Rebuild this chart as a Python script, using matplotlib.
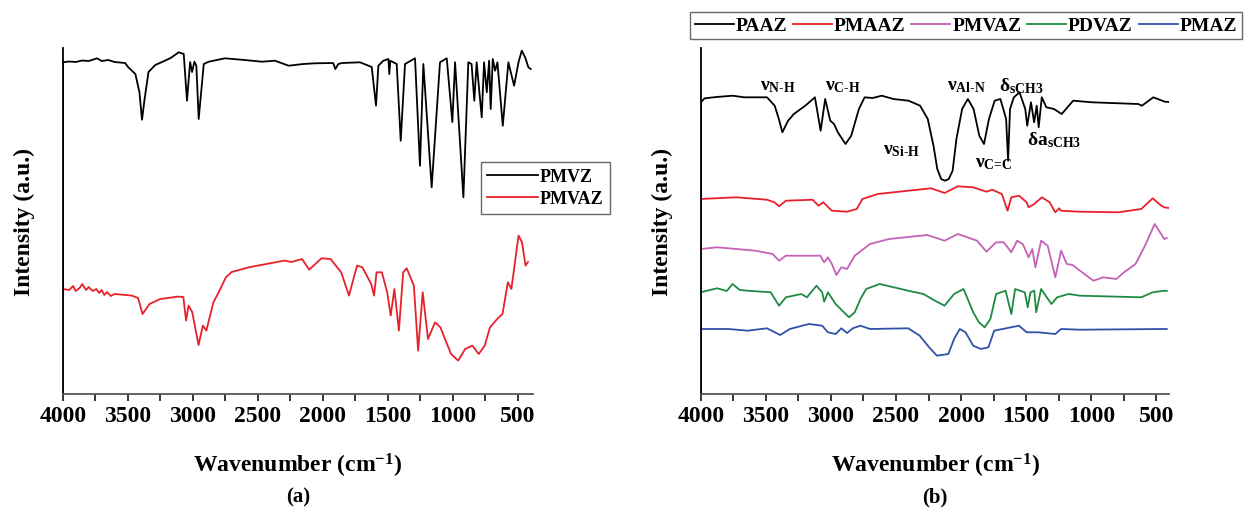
import numpy as np
import matplotlib.pyplot as plt
from matplotlib.ticker import MultipleLocator

plt.rcParams['font.family'] = ['Liberation Serif', 'DejaVu Serif']
plt.rcParams['font.weight'] = 'bold'
plt.rcParams['mathtext.fontset'] = 'custom'
plt.rcParams['mathtext.rm'] = 'Liberation Serif:bold'
plt.rcParams['mathtext.it'] = 'Liberation Serif:bold'
plt.rcParams['mathtext.bf'] = 'Liberation Serif:bold'

# ---- panel (a) data: wavenumber (cm-1), intensity (a.u., offset stack) ----
pmvz_w = [4000, 3950, 3900, 3850, 3800, 3736, 3700, 3650, 3600, 3520, 3495, 3441, 3410, 3390,
          3370, 3340, 3288, 3236, 3170, 3108, 3069, 3044, 3020, 3005, 2987, 2972, 2954, 2915,
          2877, 2752, 2600, 2467, 2367, 2262, 2150, 2060, 1920, 1903, 1880, 1852, 1713, 1623,
          1590, 1572, 1534, 1495, 1488, 1480, 1431, 1400, 1367, 1290, 1252, 1226, 1162, 1098,
          1046, 1003, 982, 918, 880, 855, 834, 816, 777, 759, 738, 720, 708, 692, 674, 656,
          615, 572, 528, 494, 469, 443, 418, 400]
pmvz_i = [331.7, 332.5, 332, 333.5, 333, 335.7, 333, 334, 332, 331, 326.7, 320, 302, 274.3,
          295, 322, 329, 332, 336, 341.7, 340, 293.3, 332, 322, 332.3, 328.3, 275, 330,
          332.3, 335.7, 334, 332.3, 333.3, 328.3, 330, 330.7, 331, 325, 330, 331, 331.7, 327,
          288.3, 328.3, 333.3, 335, 320, 333.3, 330, 253.3, 330, 335.7, 228.3, 330, 206.7, 331.7,
          335.7, 272, 331.7, 196.7, 331.7, 330, 293.3, 331.7, 276.7, 331.7, 301.7, 333.3, 285, 335,
          323.3, 331.7, 268.3, 331.7, 308.3, 331.7, 343.3, 336.7, 326.7, 325]

pmvaz_w = [4000, 3950, 3920, 3900, 3870, 3850, 3820, 3800, 3770, 3741, 3720, 3700, 3680, 3659,
           3630, 3600, 3468, 3420, 3386, 3332, 3250, 3113, 3072, 3051, 3032, 3004, 2955, 2922,
           2895, 2841, 2800, 2745, 2700, 2568, 2295, 2240, 2159, 2104, 2009, 1940, 1858, 1798,
           1736, 1695, 1627, 1605, 1586, 1545, 1504, 1477, 1449, 1414, 1381, 1354, 1299, 1266,
           1231, 1190, 1136, 1095, 1013, 958, 904, 849, 800, 754, 713, 658, 617, 576, 549, 535,
           494, 467, 440, 421]
pmvaz_i = [105, 104, 108, 103, 106, 110, 104, 107, 103, 105, 101, 104, 99, 102,
           98, 100, 98.4, 96, 80, 90, 95, 97.4, 97, 73.4, 88.4, 82, 49, 68.4,
           63.4, 91.7, 101.7, 116.7, 122, 126.7, 133.4, 132, 135, 124.4, 135.7, 135, 121.7, 98.4,
           128.4, 126.7, 110, 98.4, 121.7, 121.7, 101.7, 78.4, 105, 63.4, 121.7, 125.7, 108.4, 43.4,
           101.7, 55, 71.7, 66.7, 40, 33.4, 45, 48.4, 40, 48.4, 66.7, 75, 80, 111.7, 105, 118.4,
           158.4, 151.7, 128.4, 132]

# ---- panel (b) data ----
paaz_w = [4000, 3970, 3880, 3755, 3667, 3491, 3432, 3400, 3373, 3329, 3285, 3197, 3123, 3079,
          3044, 3005, 2976, 2947, 2888, 2844, 2785, 2741, 2680, 2609, 2520, 2403, 2315, 2256,
          2212, 2183, 2153, 2124, 2095, 2065, 2036, 1992, 1948, 1904, 1860, 1824, 1786, 1742,
          1698, 1654, 1639, 1624, 1595, 1551, 1507, 1492, 1463, 1439, 1419, 1404, 1380, 1345,
          1286, 1227, 1139, 992, 640, 611, 523, 435, 400]
paaz_i = [291.7, 295.7, 297, 298.3, 296.7, 296.7, 288.3, 275, 261.7, 273.3, 280, 288.3, 296.7, 263.3,
          295, 273.3, 270, 261.7, 250, 258.3, 285, 296.7, 296, 298.3, 295, 293.3, 288.3, 275,
          248.3, 225, 215, 213.3, 215, 223.3, 255, 285, 295, 285, 258.3, 250, 275, 293.3,
          295, 275, 233.3, 285, 296.7, 301.7, 285, 268.3, 291.7, 271.7, 288.3, 266.7, 296.7, 286.7,
          285, 280, 293.3, 291.7, 290, 288.3, 296.7, 292.3, 292]

pmaaz_w = [4000, 3727, 3492, 3434, 3398, 3346, 3140, 3096, 3058, 2993, 2876, 2802, 2758, 2641,
           2406, 2230, 2127, 2025, 1907, 1805, 1761, 1687, 1643, 1614, 1555, 1496, 1482, 1438,
           1379, 1320, 1276, 1247, 1232, 1086, 792, 616, 528, 469, 440, 400]
pmaaz_i = [195, 196.7, 194.3, 191.7, 187.7, 193.3, 194.3, 188.3, 191.7, 183.3, 182.3, 185, 195, 200,
           203.3, 205.7, 201, 207.7, 206.7, 202.3, 204.3, 200, 183.3, 196.7, 198.3, 191.7, 186.7, 190,
           196.7, 191.7, 181.7, 185.7, 183.3, 182.3, 181.7, 185, 195.7, 189, 186.7, 186]

pmvaz_b_w = [4000, 3874, 3580, 3448, 3398, 3346, 3081, 3052, 3023, 2993, 2958, 2920, 2876, 2817,
             2700, 2553, 2260, 2127, 2025, 1878, 1805, 1731, 1672, 1643, 1614, 1570, 1526, 1482,
             1453, 1429, 1385, 1335, 1276, 1232, 1188, 1144, 1086, 983, 909, 807, 748, 660, 587,
             513, 463, 440, 420]
pmvaz_b_i = [145, 146.7, 143.3, 140, 133.3, 138.3, 138.3, 131.7, 136.7, 130, 119, 126.7, 125, 138.3,
             150, 155, 159, 153.3, 160, 153.3, 142.3, 151.7, 151.7, 146.7, 141.7, 153.3, 150, 136.7,
             145, 126.7, 153.3, 148.3, 116.7, 143.3, 130, 129, 123.3, 113.3, 116.7, 115, 121.7, 130, 148.3,
             170, 160, 155, 156]

pdvaz_w = [4000, 3930, 3874, 3800, 3756, 3700, 3639, 3463, 3398, 3346, 3228, 3184, 3111, 3067,
           3052, 3023, 2964, 2861, 2817, 2773, 2729, 2626, 2406, 2289, 2201, 2127, 2054, 1981,
           1907, 1863, 1819, 1775, 1731, 1658, 1614, 1585, 1511, 1488, 1467, 1438, 1423, 1385,
           1350, 1306, 1262, 1174, 1086, 792, 616, 528, 440, 420]
pdvaz_i = [101.7, 104, 105.7, 103, 110, 104, 103.3, 101.7, 88.3, 96.7, 100, 96.7, 108.3, 101.7,
           92.3, 101.7, 90, 76.7, 81.7, 95, 105, 110, 103.3, 100, 93.3, 88.3, 100, 105,
           81.7, 71.7, 66.7, 75, 100, 103.3, 80, 105, 101.7, 86.7, 101.7, 103.3, 81.7, 105,
           98.3, 90, 96.7, 100, 98.3, 97.3, 96.7, 101.7, 103.3, 103]

pmaz_w = [4000, 3786, 3639, 3492, 3390, 3316, 3169, 3067, 3023, 2964, 2920, 2876, 2832, 2773,
          2700, 2406, 2318, 2245, 2186, 2098, 2054, 2010, 1966, 1907, 1848, 1790, 1746, 1555,
          1496, 1409, 1276, 1232, 1086, 440, 420]
pmaz_i = [65, 65, 63.3, 65.7, 59, 65, 70, 68.3, 61.7, 60, 65.7, 61, 65.7, 68.3,
          65, 65.7, 58.3, 46.7, 38.3, 40, 55, 65, 61.7, 48.3, 45, 46.7, 63.3, 68.3,
          61.7, 61.7, 60, 65, 64.3, 65, 65]

labels_a = ['PMVZ', 'PMVAZ']
colors_a = ['black', '#e8202a']
labels_b = ['PAAZ', 'PMAAZ', 'PMVAZ', 'PDVAZ', 'PMAZ']
colors_b = ['black', '#e8202a', '#c462b8', '#1f8a43', '#2f52a8']

# band assignments (label, wavenumber, intensity)
ann_text = [r'ν$_{\mathrm{N\text{-}H}}$', r'ν$_{\mathrm{C\text{-}H}}$', r'ν$_{\mathrm{Si\text{-}H}}$',
            r'ν$_{\mathrm{Al\text{-}N}}$', r'δ$_{\mathrm{sCH3}}$', r'ν$_{\mathrm{C\text{=}C}}$',
            r'δa$_{\mathrm{sCH3}}$']
ann_w = [3408, 2910, 2460, 1961, 1539, 1747, 1287]
ann_i = [309, 309, 245, 309, 309, 232, 255]

fig = plt.figure(figsize=(12.44, 5.10), dpi=100)
ax1 = fig.add_axes([0.0504, 0.2255, 0.3778, 0.6784])
ax2 = fig.add_axes([0.5633, 0.2255, 0.3767, 0.6784])


def style(ax, xmin):
    ax.set_xlim(4000, xmin)
    ax.set_ylim(0, 346)
    ax.spines['top'].set_visible(False)
    ax.spines['right'].set_visible(False)
    ax.spines['left'].set_linewidth(1.3)
    ax.spines['bottom'].set_linewidth(1.3)
    ax.spines['bottom'].set_color('#555555')
    ax.set_yticks([])
    ax.xaxis.set_major_locator(MultipleLocator(500))
    ax.xaxis.set_minor_locator(MultipleLocator(250))
    ax.tick_params(axis='x', which='both', direction='out', length=5, width=1.1, pad=3)
    ax.tick_params(axis='x', labelsize=17)
    for t in ax.get_xticklabels():
        t.set_fontweight('bold')
    ax.set_xlabel('Wavenumber (cm$^{-1}$)', fontsize=17, fontweight='bold', labelpad=18)
    ax.set_ylabel('Intensity (a.u.)', fontsize=17, fontweight='bold', labelpad=20)


# panel (a)
series_a = [(pmvz_w, pmvz_i), (pmvaz_w, pmvaz_i)]
for (w, i), lab, c in zip(series_a, labels_a, colors_a):
    ax1.plot(w, i, color=c, lw=1.3, label=lab)
    ax1.plot([w[0], w[0]], [0, i[0]], color=c, lw=1.3)
style(ax1, 385)
ax1.text(0.5, -0.295, '(a)', transform=ax1.transAxes, ha='center', va='center', fontsize=15, fontweight='bold')
leg1 = ax1.legend(loc='upper left', bbox_to_anchor=(0.3867, 0.681), bbox_transform=fig.transFigure,
                  fontsize=13, frameon=True, fancybox=False, edgecolor='#444444', handlelength=2.8,
                  handletextpad=0.1, labelspacing=0.3, borderpad=0.35, borderaxespad=0)
leg1.get_frame().set_linewidth(1.0)
for t in leg1.get_texts():
    t.set_fontweight('bold')

# panel (b)
series_b = [(paaz_w, paaz_i), (pmaaz_w, pmaaz_i), (pmvaz_b_w, pmvaz_b_i), (pdvaz_w, pdvaz_i), (pmaz_w, pmaz_i)]
lines = []
for (w, i), lab, c in zip(series_b, labels_b, colors_b):
    ln, = ax2.plot(w, i, color=c, lw=1.3, label=lab)
    lines.append(ln)
for (w, i), c in zip(series_b[:4], colors_b[:4]):
    ax2.plot([w[0], w[0]], [0, i[0]], color=c, lw=1.3)
style(ax2, 400)
ax2.text(0.5, -0.295, '(b)', transform=ax2.transAxes, ha='center', va='center', fontsize=15, fontweight='bold')
for txt, w, i in zip(ann_text, ann_w, ann_i):
    ax2.text(w, i, txt, ha='center', va='center', fontsize=14, fontweight='bold')
leg2 = ax2.legend(handles=lines, loc='upper left', bbox_to_anchor=(0.5547, 0.9745), bbox_transform=fig.transFigure,
                  ncol=5, fontsize=14, frameon=True, fancybox=False, edgecolor='#444444', handlelength=2.0,
                  handletextpad=0.1, columnspacing=0.3, borderpad=0.25, borderaxespad=0)
leg2.get_frame().set_linewidth(1.0)
for t in leg2.get_texts():
    t.set_fontweight('bold')

fig.savefig('out.png', dpi=100)
